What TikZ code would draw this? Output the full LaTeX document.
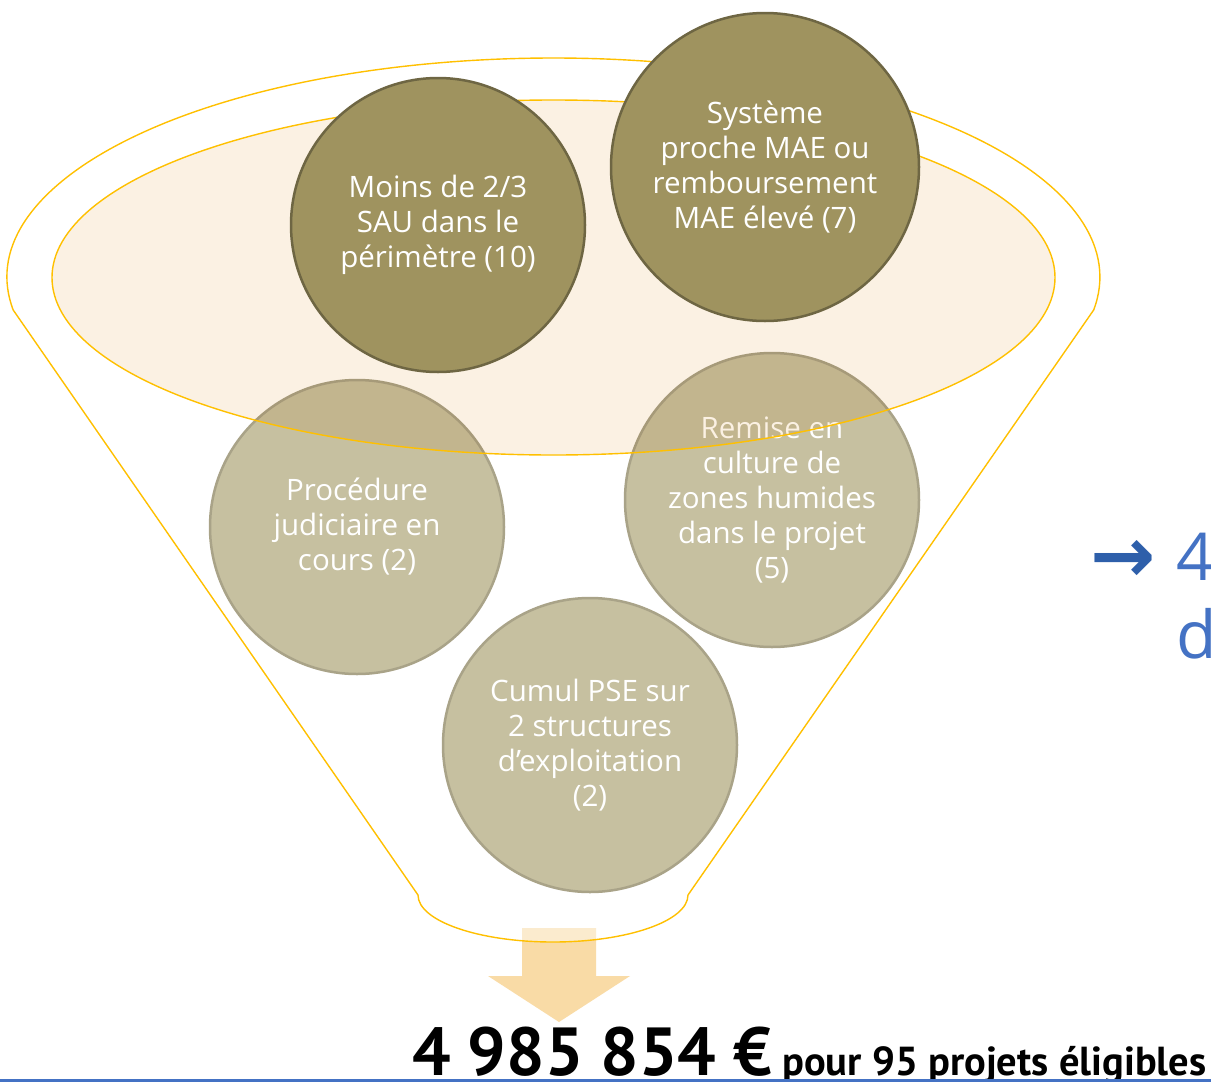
\documentclass[tikz,border=0pt]{standalone}
\usepackage{fontspec}
\setmainfont{PT Sans}
\newfontfamily\circfont{Open Sans}
\newfontfamily\symfont{DejaVu Sans}
\definecolor{olivedark}{HTML}{9F935F}
\definecolor{olivedraw}{HTML}{6E6643}
\definecolor{olivelight}{HTML}{C6C0A0}
\definecolor{olivelightdraw}{HTML}{A9A388}
\definecolor{funnelgold}{HTML}{FFC000}
\definecolor{beigefill}{HTML}{FBF1E3}
\definecolor{arrowor}{HTML}{F9DBA6}
\definecolor{textblue}{HTML}{4472C4}
\definecolor{arrowblue}{HTML}{2E5FAA}
\begin{document}
\begin{tikzpicture}[x=1pt,y=-1pt,
  basecirc/.style={circle, line width=2.5pt, minimum size=294pt, inner sep=0pt,
    text=white, align=center, font=\circfont\fontsize{29.5}{35}\selectfont},
  topcirc/.style={basecirc, fill=olivedark, draw=olivedraw},
  lowcirc/.style={basecirc, fill=olivelight, draw=olivelightdraw},
  goldline/.style={draw=funnelgold, line width=1.4pt}
]
\useasboundingbox[fill=white] (0,0) rectangle (1211,1082);

% arrow under the funnel
\fill[arrowor] (522,928) -- (596,928) -- (596,976) -- (630,976) -- (559,1022)
  -- (488,976) -- (522,976) -- cycle;

% funnel outline
\path[goldline, fill=white, fill opacity=0.45]
  (13.2,310) arc[start angle=171.33, end angle=368.67, x radius=546.5, y radius=219]
  -- (688,895) arc[start angle=0, end angle=180, x radius=135, y radius=47] -- cycle;

% lower circles
\node[lowcirc] (proc) at (357,527) {Procédure\\judiciaire en\\cours (2)};
\node[lowcirc] (remise) at (772,500) {Remise en\\culture de\\zones humides\\dans le projet\\(5)};
\node[lowcirc] (cumul) at (590,745) {Cumul PSE sur\\2 structures\\d’exploitation\\(2)};

% inner ellipse (multiplied over lower circles)
\fill[beigefill, blend mode=multiply] (553.5,277.5) ellipse[x radius=501.5, y radius=177.5];
\draw[goldline] (553.5,277.5) ellipse[x radius=501.5, y radius=177.5];

% upper circles
\node[topcirc] (moins) at (438,225) {Moins de 2/3\\SAU dans le\\périmètre (10)};
\node[topcirc, minimum size=308pt] (systeme) at (765,167) {Système\\proche MAE ou\\remboursement\\MAE élevé (7)};

% right text (cut by the edge)
\node[anchor=base west, inner sep=0pt, text=arrowblue,
  font=\symfont\bfseries\fontsize{78}{78}\selectfont] (rarrow) at (1090,582) {→};
\node[anchor=base west, inner sep=0pt, text=textblue,
  font=\circfont\fontsize{66}{66}\selectfont] (rfour) at (1176,580) {4};
\node[anchor=base west, inner sep=0pt, text=textblue,
  font=\circfont\fontsize{66}{66}\selectfont] (rd) at (1176,658) {d};

% bottom text
\node[anchor=base west, inner sep=0pt, text=black] (total) at (412,1075)
  {{\bfseries\fontsize{68}{68}\selectfont 4 985 854 €}\hspace{10pt}{\bfseries\fontsize{40.5}{40.5}\selectfont pour 95 projets éligibles}};

% bottom rule
\coordinate (ruleL) at (0,1080.5);
\coordinate (ruleR) at (1211,1080.5);
\draw[textblue, line width=3pt] (ruleL) -- (ruleR);
\end{tikzpicture}
\end{document}
